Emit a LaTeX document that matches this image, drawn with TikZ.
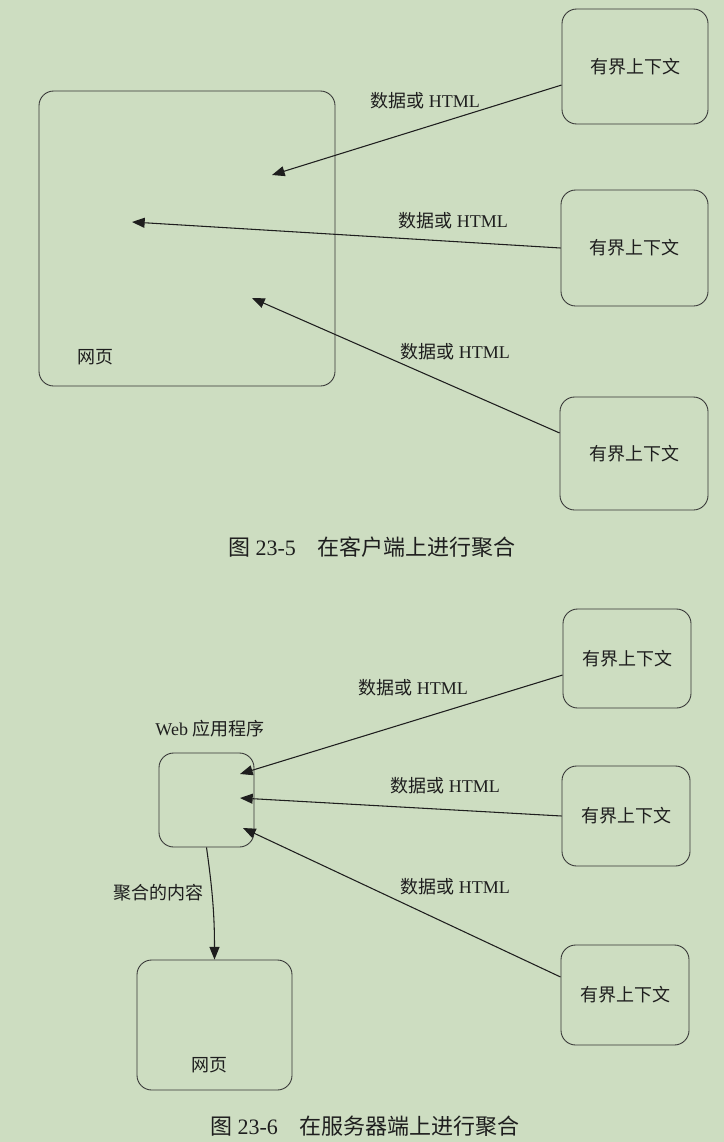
\documentclass[tikz,border=0pt]{standalone}
\usepackage{fontspec}
\setmainfont{Liberation Serif}
\newfontfamily\cjk{Noto Sans CJK SC}
\usetikzlibrary{arrows.meta}
\definecolor{bg}{RGB}{205,221,193}
\definecolor{ink}{RGB}{30,30,30}
\begin{document}
\begin{tikzpicture}[x=0.75pt,y=-0.75pt,
  box/.style={draw=ink!90, line width=0.65pt, rounded corners=11pt, inner sep=0pt,
              font=\cjk\fontsize{13.5}{15}\selectfont, text=ink},
  lbl/.style={font=\fontsize{13.5}{15}\selectfont, text=ink, inner sep=0pt},
  captxt/.style={font=\fontsize{16.5}{18}\selectfont, text=ink, inner sep=0pt},
  conn/.style={draw=ink, line width=0.8pt, -{Triangle[length=9.5pt,width=7.5pt]}}]
\fill[bg] (0,0) rectangle (724,1142);
\useasboundingbox (0,0) rectangle (724,1142);

% ---------- Figure 23-5 ----------
\node[box, minimum width=222pt, minimum height=221.25pt] (wp1) at (187,238.5) {};
\node[lbl] (wp1l) at (95,357) {\cjk 网页};
\node[box, minimum width=109.5pt, minimum height=86.25pt] (bc1) at (635,66.5) {有界上下文};
\node[box, minimum width=110.25pt, minimum height=87pt] (bc2) at (634.5,248) {有界上下文};
\node[box, minimum width=111pt, minimum height=84.75pt] (bc3) at (634,453.5) {有界上下文};
\coordinate (t1) at (272,175);
\coordinate (t2) at (132,222);
\coordinate (t3) at (252,298);
\draw[conn] ([yshift=-13.9pt]bc1.west) -- (t1);
\draw[conn] (bc2.west) -- (t2);
\draw[conn] ([yshift=15.4pt]bc3.west) -- (t3);
\node[lbl] (l1) at (425,101) {{\cjk 数据或} HTML};
\node[lbl] (l2) at (453,221) {{\cjk 数据或} HTML};
\node[lbl] (l3) at (455,352) {{\cjk 数据或} HTML};
\node[captxt] (cap1) at (372,547) {{\cjk 图} 23-5{\cjk 　在客户端上进行聚合}};

% ---------- Figure 23-6 ----------
\node[box, minimum width=96pt, minimum height=74.25pt] (bc4) at (627,658.5) {有界上下文};
\node[box, minimum width=96pt, minimum height=75pt] (bc5) at (626,816) {有界上下文};
\node[box, minimum width=96pt, minimum height=75pt] (bc6) at (625,995) {有界上下文};
\node[box, minimum width=71.25pt, minimum height=70.5pt] (app) at (206.5,800) {};
\node[lbl] (appl) at (210,729) {Web {\cjk 应用程序}};
\node[box, minimum width=116.25pt, minimum height=97.5pt] (wp2) at (214.5,1025) {};
\node[lbl] (wp2l) at (209,1065) {\cjk 网页};
\coordinate (t4) at (240,774);
\coordinate (t5) at (240,798);
\coordinate (t6) at (243,828);
\draw[conn] ([yshift=-12.4pt]bc4.west) -- (t4);
\draw[conn] (bc5.west) -- (t5);
\draw[conn] ([yshift=13.5pt]bc6.west) -- (t6);
\node[lbl] (l4) at (413,688) {{\cjk 数据或} HTML};
\node[lbl] (l5) at (445,786) {{\cjk 数据或} HTML};
\node[lbl] (l6) at (455,887) {{\cjk 数据或} HTML};
\draw[conn] (app.south) to[out=-82, in=90] (wp2.north);
\node[lbl] (l7) at (158,893) {\cjk 聚合的内容};
\node[captxt] (cap2) at (365,1126) {{\cjk 图} 23-6{\cjk 　在服务器端上进行聚合}};
\end{tikzpicture}
\end{document}
